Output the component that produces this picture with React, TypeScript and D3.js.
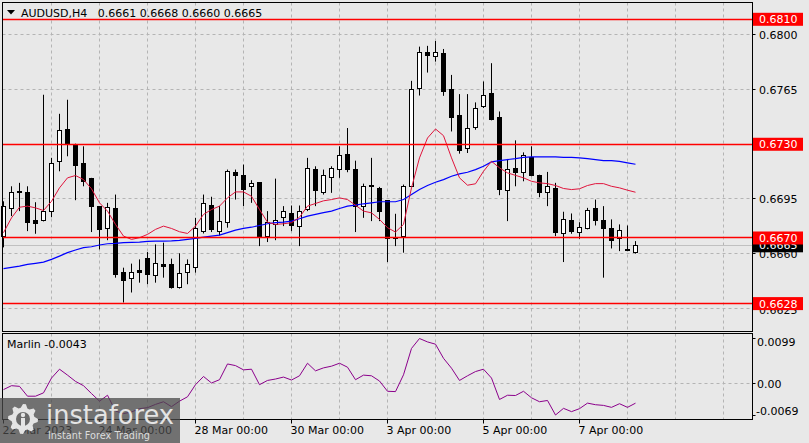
import * as d3 from 'd3';

// AUDUSD H4 candles, 22 Mar - 10 Apr 2023
const open = [
  0.66712, 0.66887, 0.66995, 0.66989, 0.66812, 0.66814, 0.66872, 0.67187, 0.67393, 0.67297,
  0.67174, 0.6708, 0.66904, 0.66763, 0.66889, 0.66478, 0.6644, 0.66493, 0.6657, 0.66457,
  0.66529, 0.66531, 0.66383, 0.66478, 0.66514, 0.66744, 0.66908, 0.66744, 0.66798, 0.67117,
  0.671, 0.67027, 0.67053, 0.66712, 0.66787, 0.66829, 0.66857, 0.66776, 0.66882, 0.67138,
  0.66993, 0.67085, 0.67138, 0.67234, 0.67138, 0.669, 0.67036, 0.67015, 0.6694, 0.66706,
  0.66708, 0.67031, 0.67659, 0.67885, 0.67861, 0.67883, 0.67653, 0.67483, 0.67276, 0.6741,
  0.67542, 0.67623, 0.67474, 0.67006, 0.67142, 0.67117, 0.67216, 0.67101, 0.66989, 0.67017,
  0.66727, 0.66812, 0.66738, 0.66759, 0.66889, 0.66812, 0.66761, 0.66695, 0.66627, 0.6661,
];
const high = [
  0.66935, 0.67031, 0.67053, 0.67031, 0.66929, 0.67617, 0.67213, 0.67495, 0.67585, 0.67304,
  0.67287, 0.67085, 0.66904, 0.66925, 0.66978, 0.6651, 0.66536, 0.66563, 0.6661, 0.66659,
  0.6667, 0.66568, 0.66602, 0.66563, 0.66829, 0.66978, 0.66964, 0.66904, 0.67138, 0.67138,
  0.6717, 0.6707, 0.67055, 0.66872, 0.6708, 0.66904, 0.66908, 0.66908, 0.67213, 0.67159,
  0.67138, 0.67159, 0.67287, 0.67404, 0.67195, 0.67048, 0.67213, 0.67027, 0.6694, 0.66855,
  0.67042, 0.67706, 0.67925, 0.6793, 0.67961, 0.6791, 0.67744, 0.67621, 0.67621, 0.67568,
  0.67702, 0.67819, 0.6751, 0.67206, 0.67325, 0.67248, 0.67287, 0.67105, 0.67123, 0.67053,
  0.66868, 0.66857, 0.66801, 0.66893, 0.66946, 0.66904, 0.66819, 0.66787, 0.6678, 0.6668,
];
const low = [
  0.6664, 0.6684, 0.66872, 0.66744, 0.66727, 0.66806, 0.66833, 0.67127, 0.67223, 0.66942,
  0.67031, 0.66738, 0.66627, 0.66686, 0.66446, 0.66287, 0.66351, 0.66414, 0.66404, 0.66414,
  0.66446, 0.66376, 0.66376, 0.66404, 0.66478, 0.66729, 0.66738, 0.66716, 0.66766, 0.66946,
  0.66904, 0.66925, 0.66648, 0.66674, 0.66686, 0.66776, 0.66744, 0.66648, 0.66872, 0.66904,
  0.66978, 0.66989, 0.67085, 0.67121, 0.66738, 0.66829, 0.66808, 0.66808, 0.66546, 0.66648,
  0.66606, 0.67031, 0.67612, 0.67759, 0.67829, 0.6761, 0.67382, 0.6724, 0.67244, 0.67393,
  0.67532, 0.67453, 0.66974, 0.66808, 0.67031, 0.67063, 0.67095, 0.66961, 0.66904, 0.66712,
  0.66546, 0.66727, 0.66695, 0.66755, 0.6678, 0.66446, 0.66633, 0.66616, 0.66616, 0.666,
];
const close = [
  0.669, 0.66989, 0.6699, 0.66798, 0.66795, 0.66868, 0.67174, 0.67387, 0.67297, 0.67165,
  0.67063, 0.66904, 0.66755, 0.66897, 0.66467, 0.66425, 0.66478, 0.66476, 0.66467, 0.66536,
  0.66517, 0.66383, 0.66472, 0.66529, 0.66759, 0.66919, 0.66755, 0.66808, 0.67123, 0.67101,
  0.6701, 0.67048, 0.66708, 0.66798, 0.66814, 0.66868, 0.66782, 0.66872, 0.67142, 0.67006,
  0.671, 0.67142, 0.67227, 0.67138, 0.66904, 0.67027, 0.67027, 0.66872, 0.66695, 0.66695,
  0.67027, 0.67653, 0.67889, 0.6787, 0.67889, 0.67638, 0.67474, 0.67261, 0.67404, 0.67532,
  0.67612, 0.67457, 0.6701, 0.67138, 0.67121, 0.67227, 0.67101, 0.66993, 0.67027, 0.66738,
  0.66819, 0.66744, 0.66766, 0.66876, 0.66814, 0.66763, 0.66686, 0.66748, 0.66623, 0.6665,
];

// fast (red) and slow (blue) moving averages
const redMa = [
  0.66734, 0.66829, 0.66897, 0.66904, 0.66893, 0.66876, 0.66935, 0.67021, 0.67085, 0.671,
  0.67074, 0.67015, 0.66925, 0.66872, 0.66787, 0.66712, 0.66691, 0.66702, 0.66723, 0.66755,
  0.66776, 0.66761, 0.6674, 0.66729, 0.66776, 0.66851, 0.66882, 0.66904, 0.66957, 0.66995,
  0.66995, 0.66967, 0.66882, 0.66801, 0.66787, 0.66791, 0.66798, 0.66833, 0.66904, 0.66921,
  0.66938, 0.66946, 0.66957, 0.66946, 0.6691, 0.66872, 0.66861, 0.66819, 0.66766, 0.66738,
  0.66787, 0.67021, 0.67213, 0.6734, 0.67398, 0.67355, 0.67213, 0.67085, 0.67038, 0.67047,
  0.67127, 0.67191, 0.67149, 0.67117, 0.67101, 0.67085, 0.67063, 0.67053, 0.67048, 0.67036,
  0.67017, 0.6701, 0.67015, 0.67036, 0.67048, 0.67048, 0.67031, 0.67021, 0.67006, 0.66993,
];
const blueMa = [
  0.66504, 0.66512, 0.6652, 0.66531, 0.66538, 0.66546, 0.66563, 0.66584, 0.66606, 0.66623,
  0.66638, 0.66644, 0.66655, 0.66663, 0.66665, 0.6667, 0.66672, 0.66674, 0.66678, 0.6668,
  0.6668, 0.66681, 0.66685, 0.66691, 0.66697, 0.66706, 0.66712, 0.66718, 0.66734, 0.6675,
  0.66761, 0.66769, 0.6678, 0.66791, 0.66798, 0.66801, 0.66808, 0.66823, 0.6684, 0.66851,
  0.66862, 0.66872, 0.66889, 0.66904, 0.6691, 0.66919, 0.66925, 0.66932, 0.66932, 0.66932,
  0.66946, 0.66978, 0.6701, 0.67036, 0.67057, 0.67074, 0.67095, 0.6711, 0.67121, 0.67138,
  0.67159, 0.67187, 0.67195, 0.67202, 0.67208, 0.67216, 0.67219, 0.67219, 0.67219, 0.67219,
  0.67216, 0.67216, 0.67213, 0.67208, 0.67202, 0.67195, 0.67195, 0.67191, 0.67181, 0.67172,
];

// Marlin oscillator
const marlin = [
  -0.00132, -0.00046, -0.00061, -0.00277, -0.00277, -0.00204, 0.00121, 0.00316, 0.00186, 0.00048,
  -0.00046, -0.00219, -0.00386, -0.00256, -0.00603, -0.00659, -0.00624, -0.00551, -0.00529, -0.00457,
  -0.00399, -0.00507, -0.00386, -0.0029, -0.00024, 0.00156, 0.00013, 0.00085, 0.00431, 0.00395,
  0.00301, 0.00316, -0.00024, 0.00069, 0.001, 0.00143, 0.00078, 0.00171, 0.00447, 0.0028,
  0.00345, 0.00382, 0.00447, 0.0036, 0.00085, 0.00186, 0.00171, 0.00056, -0.00169, -0.00176,
  0.00193, 0.00772, 0.0099, 0.00915, 0.00865, 0.00555, 0.00338, 0.00069, 0.00171, 0.00264,
  0.00316, 0.00121, -0.00349, -0.00256, -0.00262, -0.00169, -0.00312, -0.00399, -0.00371, -0.0069,
  -0.00544, -0.00616, -0.00551, -0.00429, -0.00464, -0.00479, -0.00522, -0.00442, -0.00522, -0.0043,
];

const priceTicks = [0.68, 0.6765, 0.6695, 0.666, 0.6625];
const levels = [0.681, 0.673, 0.667, 0.6628];
const lastPrice = 0.6665;
const marlinTicks = [0.0099, 0, -0.0069];
const timeLabels = ['22 Mar 2023', '24 Mar 00:00', '28 Mar 00:00', '30 Mar 00:00', '3 Apr 00:00', '5 Apr 00:00', '7 Apr 00:00'];
const timeLabelBars = [0, 12, 24, 36, 48, 60, 72];
const gridBars = d3.range(6, 91, 6);
const gridPrices = [0.68, 0.6765, 0.673, 0.6695, 0.666, 0.6625];

const W = 809;
const H = 443;
const LEFT = 2.5;
const RIGHT = 752.5;
const MAIN = { top: 2.5, bottom: 331.5 };
const IND = { top: 333.5, bottom: 419.5 };
const FONT = 'DejaVu Sans';
const BG = '#e8e8e8';
const GRID = '#b4b4b4';

const crisp = (v: number) => Math.round(v - 0.5) + 0.5;

export default function App() {
  const x = d3.scaleLinear().domain([0, 79]).range([3.5, 635.5]);
  const y = d3.scaleLinear().domain([0.6628, 0.681]).range([303.6, 19.3]);
  const yInd = d3.scaleLinear().domain([-0.0069, 0.0099]).range([415, 338.5]);

  const maLine = d3
    .line<number>()
    .x((_, i) => x(i))
    .y((d) => y(d));
  const marlinLine = d3
    .line<number>()
    .x((_, i) => x(i))
    .y((d) => yInd(d));

  // gear for the watermark logo
  const gear = (cx: number, cy: number) => {
    const pts: [number, number][] = [];
    const teeth = 8;
    for (let k = 0; k < teeth * 4; k++) {
      const a = (k / (teeth * 4)) * Math.PI * 2;
      const r = k % 4 < 2 ? 15 : 11.5;
      pts.push([cx + r * Math.cos(a), cy + r * Math.sin(a)]);
    }
    return 'M' + pts.map((p) => p.join(',')).join('L') + 'Z';
  };

  return (
    <svg
      width={W}
      height={H}
      style={{ position: 'absolute', left: 0, top: 0, background: BG }}
      fontFamily={FONT}
      fontSize={11}
    >
      <rect x={0} y={0} width={W} height={H} fill={BG} />

      {/* grid */}
      <g stroke={GRID} strokeDasharray="3,3" strokeWidth={1}>
        {gridBars.map((b) => (
          <g key={b}>
            <line x1={x(b)} x2={x(b)} y1={MAIN.top} y2={MAIN.bottom} />
            <line x1={x(b)} x2={x(b)} y1={IND.top} y2={IND.bottom} />
          </g>
        ))}
        {gridPrices.map((p) => (
          <line key={p} x1={LEFT} x2={RIGHT} y1={crisp(y(p))} y2={crisp(y(p))} />
        ))}
        <line x1={LEFT} x2={RIGHT} y1={crisp(yInd(0))} y2={crisp(yInd(0))} />
      </g>

      {/* bid line */}
      <line x1={LEFT} x2={RIGHT} y1={crisp(y(lastPrice))} y2={crisp(y(lastPrice))} stroke="#c0c0c0" />

      {/* candles */}
      <g>
        {open.map((o, i) => {
          const c = close[i];
          const cx = x(i);
          const yo = crisp(y(o));
          const yc = crisp(y(c));
          const top = Math.min(yo, yc);
          const h = Math.abs(yo - yc);
          const bull = c >= o;
          return (
            <g key={i}>
              <line x1={cx} x2={cx} y1={y(high[i])} y2={y(low[i])} stroke="#000" />
              {h < 1 ? (
                <line x1={cx - 2.5} x2={cx + 2.5} y1={top} y2={top} stroke="#000" />
              ) : (
                <rect x={cx - 2} y={top} width={4} height={h} fill={bull ? '#fff' : '#000'} stroke="#000" />
              )}
            </g>
          );
        })}
      </g>

      {/* moving averages */}
      <path d={maLine(blueMa) || ''} fill="none" stroke="#0000ff" strokeWidth={1.2} />
      <path d={maLine(redMa) || ''} fill="none" stroke="#e0143c" strokeWidth={1} />

      {/* horizontal levels */}
      {levels.map((l) => (
        <line key={l} x1={LEFT} x2={RIGHT} y1={crisp(y(l))} y2={crisp(y(l))} stroke="#ff0000" strokeWidth={1.3} />
      ))}

      {/* Marlin */}
      <path d={marlinLine(marlin) || ''} fill="none" stroke="#8b008b" strokeWidth={1} />

      {/* panel frames */}
      <rect x={LEFT} y={MAIN.top} width={RIGHT - LEFT} height={MAIN.bottom - MAIN.top} fill="none" stroke="#000" />
      <rect x={LEFT} y={IND.top} width={RIGHT - LEFT} height={IND.bottom - IND.top} fill="none" stroke="#000" />

      {/* price axis */}
      {priceTicks.map((p) => (
        <g key={p}>
          <line x1={RIGHT} x2={RIGHT + 3} y1={crisp(y(p))} y2={crisp(y(p))} stroke="#000" />
          <text x={759} y={p === 0.6625 ? y(p) + 2 : y(p)} dy="0.36em" fill="#000">
            {p.toFixed(4)}
          </text>
        </g>
      ))}
      <rect x={753} y={y(lastPrice) - 6.5} width={50} height={13} fill="#000" />
      <text x={759} y={y(lastPrice) - 1} dy="0.36em" fill="#fff">
        {lastPrice.toFixed(4)}
      </text>
      {levels.map((l) => (
        <g key={l}>
          <rect x={753} y={y(l) - 6.5} width={50} height={13} fill="#ff0000" />
          <text x={759} y={y(l)} dy="0.36em" fill="#fff">
            {l.toFixed(4)}
          </text>
        </g>
      ))}

      {/* Marlin axis */}
      {marlinTicks.map((m, k) => (
        <g key={m}>
          <line x1={RIGHT} x2={RIGHT + 3} y1={crisp(yInd(m))} y2={crisp(yInd(m))} stroke="#000" />
          <text x={m < 0 ? 756 : 757} y={k === 0 ? 342 : k === 2 ? 411.5 : yInd(m)} dy="0.36em" fill="#000">
            {m === 0 ? '0.00' : m.toFixed(4)}
          </text>
        </g>
      ))}

      {/* time axis */}
      {timeLabels.map((t, k) => (
        <g key={t}>
          <line x1={x(timeLabelBars[k])} x2={x(timeLabelBars[k])} y1={IND.bottom} y2={IND.bottom + 4} stroke="#000" />
          <text x={x(timeLabelBars[k]) - 1} y={430} dy="0.36em" fill="#000">
            {t}
          </text>
        </g>
      ))}

      {/* titles */}
      <path d="M7,10 L15,10 L11,14.5 Z" fill="#000" />
      <text x={21} y={13} dy="0.36em" fill="#000">
        {'AUDUSD,H4\u00a0\u00a0\u00a00.6661 0.6668 0.6660 0.6665'}
      </text>
      <text x={7} y={344} dy="0.36em" fill="#000">
        Marlin -0.0043
      </text>

      {/* watermark */}
      <g>
        <rect x={0} y={398} width={180} height={45} fill="#4a4a4a" opacity={0.75} />
        <path d={gear(23, 419)} fill="#e4e4e4" />
        <circle cx={23} cy={419} r={7} fill="#6a6a6a" />
        <circle cx={23} cy={415} r={2.2} fill="#e4e4e4" />
        <rect x={21} y={418} width={4} height={9} fill="#e4e4e4" />
        <text x={46} y={424} fontSize={27} fill="#e4e4e4" textLength={128} lengthAdjust="spacingAndGlyphs">
          instaforex
        </text>
        <text x={48} y={439} fontSize={10} fill="#dcdcdc" textLength={102} lengthAdjust="spacingAndGlyphs">
          Instant Forex Trading
        </text>
      </g>
    </svg>
  );
}
